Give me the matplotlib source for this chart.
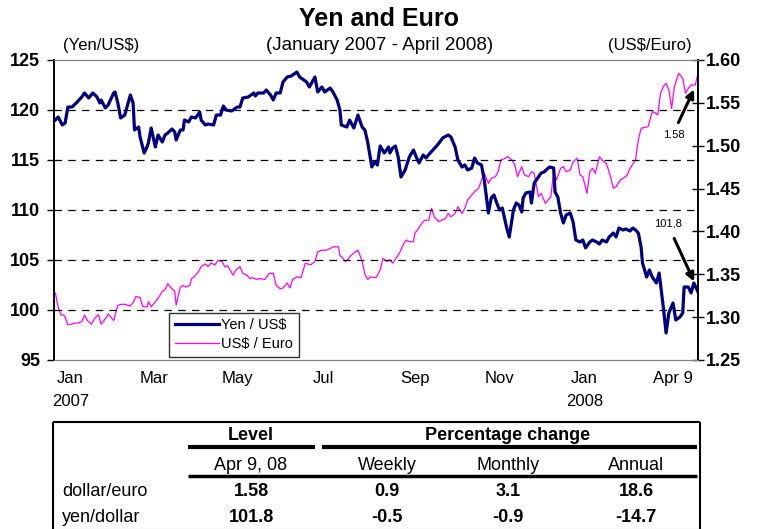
import numpy as np
import matplotlib
matplotlib.use('Agg')
import matplotlib.pyplot as plt
from matplotlib.lines import Line2D

plt.rcParams['font.family'] = ['Liberation Sans', 'DejaVu Sans']

# dias desde el 1 de enero de 2007 (hasta el 9 de abril de 2008 = dia 464)
yen_dias = [1, 3, 6, 8, 10, 13, 16, 20, 22, 25,
            28, 31, 33, 34, 37, 39, 43, 44, 46, 48,
            51, 55, 57, 58, 61, 62, 65, 67, 68, 70,
            73, 75, 78, 80, 82, 85, 87, 88, 91, 93,
            94, 97, 99, 102, 105, 106, 109, 111, 115, 117,
            120, 122, 124, 128, 132, 134, 136, 140, 144, 145,
            147, 151, 153, 156, 158, 160, 163, 165, 168, 171,
            175, 177, 180, 182, 184, 188, 190, 193, 195, 199,
            201, 204, 206, 207, 211, 213, 216, 219, 222, 224,
            226, 229, 231, 233, 235, 238, 241, 242, 244, 246,
            248, 250, 253, 256, 259, 261, 263, 266, 268, 271,
            273, 275, 278, 280, 284, 286, 289, 291, 294, 296,
            298, 301, 303, 305, 308, 310, 313, 315, 317, 319,
            321, 323, 326, 328, 331, 333, 335, 337, 338, 340,
            343, 344, 346, 349, 351, 353, 357, 360, 361, 363,
            365, 367, 369, 372, 374, 376, 379, 381, 383, 386,
            388, 391, 393, 395, 398, 400, 403, 405, 407, 410,
            412, 415, 417, 419, 421, 423, 424, 427, 429, 431,
            434, 436, 439, 441, 443, 446, 448, 451, 453, 454,
            457, 459, 461, 464]
yen = [119.0, 119.3, 118.5, 118.7, 120.3, 120.3, 120.7, 121.3, 121.7, 121.2,
       121.7, 121.3, 120.7, 121.0, 120.2, 120.5, 121.7, 121.8, 120.7, 119.2,
       119.5, 121.5, 120.7, 118.0, 118.3, 117.3, 115.7, 116.3, 116.7, 118.2,
       116.3, 117.5, 116.8, 117.5, 117.7, 118.1, 117.8, 117.0, 118.0, 118.0,
       119.0, 118.8, 119.3, 119.2, 119.8, 119.0, 118.5, 118.6, 118.5, 119.5,
       119.5, 120.4, 120.0, 119.9, 120.3, 120.3, 121.2, 121.3, 121.7, 121.4,
       121.7, 121.7, 122.0, 121.5, 121.0, 121.7, 121.7, 122.8, 123.3, 123.4,
       123.8, 123.3, 123.0, 122.8, 122.3, 123.3, 121.8, 122.3, 121.8, 122.2,
       121.8, 121.0, 120.0, 118.5, 118.3, 119.0, 118.2, 119.5, 118.3, 118.0,
       116.8, 114.3, 114.8, 114.5, 116.4, 115.7, 116.3, 115.7, 116.2, 116.4,
       115.3, 113.3, 114.0, 115.3, 116.0, 115.3, 114.7, 115.5, 115.2, 115.7,
       116.0, 116.3, 116.8, 117.2, 117.5, 117.3, 116.3, 115.0, 114.3, 114.5,
       114.0, 114.2, 115.2, 114.7, 114.5, 113.0, 109.7, 111.2, 111.5, 110.7,
       110.0, 110.2, 108.3, 107.3, 110.0, 110.7, 110.5, 109.8, 111.2, 111.7,
       111.8, 110.7, 112.7, 113.3, 113.7, 113.8, 114.3, 114.2, 111.8, 111.3,
       109.7, 108.7, 109.5, 109.7, 108.8, 107.0, 106.8, 107.0, 106.2, 106.8,
       107.0, 106.8, 106.6, 107.0, 106.8, 107.3, 107.7, 107.3, 108.2, 108.0,
       108.1, 107.9, 108.2, 108.0, 107.7, 106.3, 104.7, 103.3, 104.0, 103.3,
       102.7, 103.7, 100.3, 97.7, 99.7, 100.7, 99.0, 99.3, 99.7, 102.3,
       102.3, 101.7, 102.7, 101.8]

euro_dias = [1, 3, 5, 7, 8, 10, 13, 15, 17, 20,
             22, 24, 27, 29, 32, 34, 37, 39, 41, 43,
             46, 49, 51, 55, 57, 59, 62, 64, 67, 68,
             70, 73, 75, 78, 80, 82, 85, 87, 88, 91,
             93, 95, 98, 99, 101, 104, 106, 109, 111, 113,
             116, 118, 121, 123, 125, 129, 131, 134, 136, 139,
             141, 143, 146, 148, 152, 155, 158, 160, 163, 165,
             168, 170, 172, 175, 178, 181, 183, 185, 188, 190,
             193, 196, 199, 201, 205, 206, 208, 210, 212, 214,
             217, 219, 222, 224, 226, 228, 232, 235, 237, 240,
             242, 244, 247, 249, 252, 254, 256, 259, 260, 262,
             265, 267, 270, 272, 274, 277, 279, 282, 284, 286,
             289, 291, 294, 296, 298, 301, 303, 306, 308, 310,
             313, 315, 318, 320, 322, 325, 327, 330, 332, 334,
             337, 339, 342, 344, 346, 349, 351, 354, 356, 358,
             360, 362, 365, 367, 369, 372, 374, 377, 379, 381,
             384, 386, 388, 390, 393, 396, 398, 401, 403, 405,
             408, 410, 413, 415, 419, 421, 423, 426, 428, 431,
             433, 435, 437, 439, 441, 443, 445, 447, 450, 452,
             453, 455, 457, 459, 462, 464]
euro = [1.328, 1.312, 1.3025, 1.3025, 1.300, 1.291, 1.292, 1.293, 1.293, 1.295,
        1.3025, 1.296, 1.2917, 1.298, 1.303, 1.2917, 1.298, 1.3037, 1.300, 1.296,
        1.314, 1.315, 1.315, 1.313, 1.317, 1.324, 1.323, 1.312, 1.312, 1.318,
        1.312, 1.318, 1.322, 1.330, 1.332, 1.339, 1.333, 1.330, 1.314, 1.335,
        1.337, 1.335, 1.337, 1.345, 1.347, 1.353, 1.359, 1.362, 1.359, 1.363,
        1.361, 1.366, 1.365, 1.359, 1.360, 1.349, 1.355, 1.359, 1.351, 1.349,
        1.345, 1.346, 1.344, 1.345, 1.344, 1.351, 1.351, 1.3375, 1.333, 1.334,
        1.340, 1.334, 1.344, 1.347, 1.346, 1.3628, 1.362, 1.361, 1.365, 1.3764,
        1.378, 1.378, 1.380, 1.382, 1.382, 1.372, 1.369, 1.3647, 1.368, 1.372,
        1.376, 1.378, 1.3655, 1.350, 1.344, 1.347, 1.346, 1.355, 1.3686, 1.365,
        1.367, 1.363, 1.370, 1.375, 1.386, 1.390, 1.388, 1.388, 1.398, 1.402,
        1.4095, 1.413, 1.413, 1.427, 1.417, 1.4114, 1.413, 1.415, 1.4211, 1.417,
        1.421, 1.4289, 1.421, 1.427, 1.4367, 1.4425, 1.4464, 1.4503, 1.460, 1.4678,
        1.456, 1.462, 1.4639, 1.4697, 1.4833, 1.4853, 1.4872, 1.4833, 1.4775, 1.4639,
        1.4756, 1.4658, 1.4639, 1.4697, 1.4678, 1.4405, 1.4444, 1.4328, 1.4367, 1.4405,
        1.4697, 1.460, 1.4736, 1.4756, 1.4697, 1.4717, 1.4814, 1.4853, 1.4658, 1.4639,
        1.4444, 1.4697, 1.4736, 1.4678, 1.4872, 1.4814, 1.4794, 1.4639, 1.4503, 1.4522,
        1.460, 1.4619, 1.4658, 1.4736, 1.4833, 1.5067, 1.5203, 1.5214, 1.5222, 1.5397,
        1.5386, 1.5358, 1.5611, 1.5689, 1.5728, 1.565, 1.5436, 1.5689, 1.5844, 1.5806,
        1.5786, 1.5611, 1.5669, 1.5708, 1.5708, 1.5844]

etiquetas_x = ['Jan\n2007', 'Mar', 'May', 'Jul', 'Sep', 'Nov', 'Jan\n2008', 'Apr 9']
dias_x = [12, 72, 132, 194, 260, 321, 382, 446]

# tabla
filas = ['dollar/euro', 'yen/dollar']
columnas = ['Apr 9, 08', 'Weekly', 'Monthly', 'Annual']
valores = [['1.58', '0.9', '3.1', '18.6'],
           ['101.8', '-0.5', '-0.9', '-14.7']]

W, H = 758, 529
fig = plt.figure(figsize=(W / 100, H / 100), dpi=100)

def fx(x):
    return x / W

def fy(y):
    return 1 - y / H

ax = fig.add_axes([fx(54), fy(360), 644 / W, 300 / H])
ax2 = ax.twinx()
ax.set_zorder(2)
ax.patch.set_visible(False)

l2, = ax2.plot(euro_dias, euro, color='#FF00FF', lw=0.9)
l1, = ax.plot(yen_dias, yen, color='#000080', lw=2.3)

ax.set_xlim(0, 464)
ax.set_ylim(95, 125)
ax2.set_ylim(1.25, 1.60)
ax.set_yticks(np.arange(95, 126, 5))
ax2.set_yticks(np.arange(1.25, 1.601, 0.05))
ax2.set_yticklabels(['%.2f' % v for v in np.arange(1.25, 1.601, 0.05)])

ax.yaxis.grid(True, linestyle=(0, (6, 5)), color='black', lw=0.9)
gl = ax.get_ygridlines()
gl[0].set_visible(False)
gl[-1].set_visible(False)

ax.set_xticks(dias_x)
ax.set_xticklabels(etiquetas_x)
ax.tick_params(axis='x', length=0, pad=8, labelsize=12)
for t in ax.get_xticklabels():
    t.set_linespacing(1.65)
ax.tick_params(axis='y', direction='out', length=5, width=1, pad=5, labelsize=13)
ax2.tick_params(axis='y', direction='inout', length=8, width=1, pad=2, labelsize=13)
for t in ax.get_yticklabels() + ax2.get_yticklabels():
    t.set_fontweight('bold')

for a in (ax, ax2):
    a.spines['top'].set_color('#808080')
    a.spines['bottom'].set_color('#808080')
    a.spines['left'].set_color('black')
    a.spines['right'].set_color('black')
    a.spines['left'].set_linewidth(1.2)
    a.spines['right'].set_linewidth(1.2)

leg = ax.legend([l1, l2], ['Yen / US$', 'US$ / Euro'], loc='lower left',
                bbox_to_anchor=(0.179, 0.009), borderaxespad=0, fancybox=False,
                edgecolor='#303030', framealpha=1, fontsize=10.5, handlelength=3.0,
                handletextpad=0.15, borderpad=0.4, labelspacing=0.35)
leg.get_frame().set_linewidth(1.0)

# flechas con el ultimo valor
ax2.annotate('', xy=(462, 1.5685), xytext=(449, 1.524),
             arrowprops=dict(arrowstyle='-|>', lw=2.2, color='black', mutation_scale=12))
ax2.text(446.5, 1.5125, '1.58', fontsize=8, ha='center', va='center')
ax.annotate('', xy=(462, 102.6), xytext=(446, 107.4),
            arrowprops=dict(arrowstyle='-|>', lw=2.2, color='black', mutation_scale=12))
ax.text(442.5, 108.6, '101,8', fontsize=8, ha='center', va='center')

# titulos
fig.text(0.5, fy(26), 'Yen and Euro', ha='center', va='baseline', fontsize=18, fontweight='bold')
fig.text(fx(380), fy(50), '(January 2007 - April 2008)', ha='center', va='baseline', fontsize=13.5)
fig.text(fx(101), fy(50), '(Yen/US$)', ha='center', va='baseline', fontsize=12)
fig.text(fx(650), fy(50), '(US$/Euro)', ha='center', va='baseline', fontsize=12)

# tabla inferior
def linea(x0, x1, y0, y1, lw, color='black'):
    fig.add_artist(Line2D([fx(x0), fx(x1)], [fy(y0), fy(y1)], lw=lw, color=color,
                          transform=fig.transFigure, solid_capstyle='butt'))

linea(53, 53, 422, 529, 1.5)
linea(700, 700, 422, 529, 1.5)
linea(53, 700, 422, 422, 1.5)
linea(53, 700, 528.5, 528.5, 0.8, '#999999')
linea(188, 315, 447, 447, 3.0)
linea(322, 697, 447, 447, 3.0)
linea(188, 697, 476, 476, 2.5)

col_x = [251, 387, 508, 636]
fig.text(fx(251), fy(435), 'Level', ha='center', va='center', fontsize=13, fontweight='bold')
fig.text(fx(508), fy(435), 'Percentage change', ha='center', va='center', fontsize=13, fontweight='bold')
for c, x in zip(columnas, col_x):
    fig.text(fx(x), fy(465), c, ha='center', va='center', fontsize=13)
for i, (f, fila) in enumerate(zip(filas, valores)):
    y = 492 + i * 26
    fig.text(fx(62), fy(y), f, ha='left', va='center', fontsize=13)
    for v, x in zip(fila, col_x):
        fig.text(fx(x), fy(y), v, ha='center', va='center', fontsize=13, fontweight='bold')

plt.savefig('out.png', dpi=100)
